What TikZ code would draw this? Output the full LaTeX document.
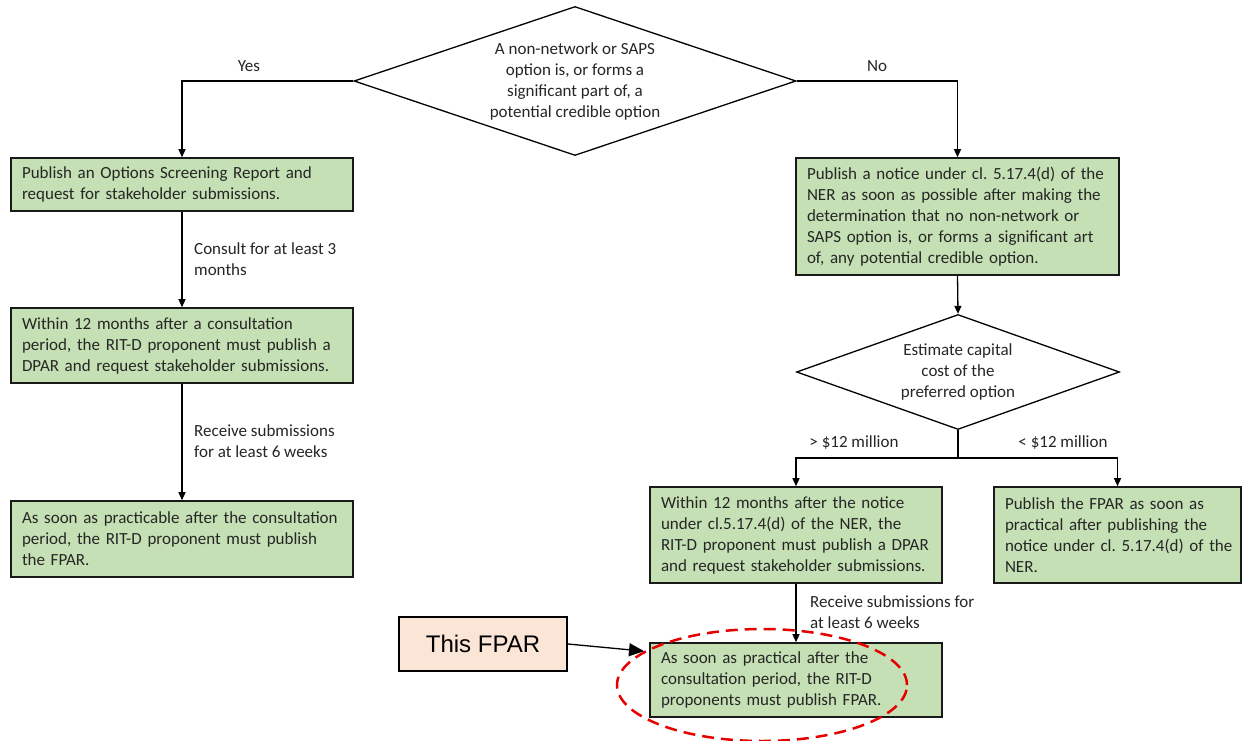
\documentclass[tikz,border=0pt]{standalone}
\usepackage{fontspec}
\setmainfont{Carlito}
\newfontfamily\arialfont{Liberation Sans}
\usetikzlibrary{arrows.meta,shapes.geometric}
\definecolor{boxgreen}{HTML}{C5E0B4}
\definecolor{peach}{HTML}{FBE5D6}
\definecolor{txt}{HTML}{262626}
\definecolor{ringred}{HTML}{E60000}
\newcommand{\lb}[1]{\mbox{#1}}
\frenchspacing
\begin{document}
\begin{tikzpicture}[x=1pt,y=-1pt,
  font=\fontsize{17}{21}\selectfont,
  box/.style={draw=black!90, line width=1.6pt, fill=boxgreen, inner xsep=11pt, inner ysep=0pt, align=left, text=txt},
  dec/.style={diamond, draw=black, line width=1.3pt, inner sep=0pt, align=center, text=txt},
  conn/.style={draw=black, line width=1.3pt, -{Triangle[length=8pt,width=7pt]}},
  lbl/.style={inner sep=0pt, text=txt, align=left},
  fpar/.style={draw=black, line width=2pt, fill=peach, minimum width=168pt, minimum height=54pt, inner sep=0pt, font=\arialfont\fontsize{24}{28}\selectfont},
  ring/.style={ellipse, draw=ringred, line width=2.5pt, dash pattern=on 12pt off 7pt, minimum width=290pt, minimum height=112pt, inner sep=0pt}]
\useasboundingbox (0,0) rectangle (1244,741);
\fill[white] (0,0) rectangle (1244,741);

% decisions
\node[dec, minimum width=442pt, minimum height=149pt, aspect=2.97] (d1) at (575,81)
  {A non-network or SAPS\\option is, or forms a\\significant part of, a\\potential credible option};
\node[dec, minimum width=323pt, minimum height=115pt, aspect=2.8] (d2) at (958,372)
  {Estimate capital\\cost of the\\preferred option};

% left column
\node[box, text width=320pt, minimum height=53pt] (b1) at (182,184.5)
  {\lb{Publish an Options Screening Report and}\\\lb{request for stakeholder submissions.}};
\node[box, text width=320pt, minimum height=75pt] (b2) at (182,345.5)
  {\lb{Within 12 months after a consultation}\\\lb{period, the RIT-D proponent must publish a}\\\lb{DPAR and request stakeholder submissions.}};
\node[box, text width=320pt, minimum height=76pt] (b3) at (182,539)
  {\lb{As soon as practicable after the consultation}\\\lb{period, the RIT-D proponent must publish}\\\lb{the FPAR.}};

% right column
\node[box, text width=301pt, minimum height=117pt] (b4) at (957.5,216.5)
  {\lb{Publish a notice under cl. 5.17.4(d) of the}\\\lb{NER as soon as possible after making the}\\\lb{determination that no non-network or}\\\lb{SAPS option is, or forms a significant art}\\\lb{of, any potential credible option.}};
\node[box, text width=270pt, minimum height=96pt] (b5) at (796,535)
  {\lb{Within 12 months after the notice}\\\lb{under cl.5.17.4(d) of the NER, the}\\\lb{RIT-D proponent must publish a DPAR}\\\lb{and request stakeholder submissions.}};
\node[box, text width=225pt, minimum height=96pt] (b6) at (1117.5,535)
  {\lb{Publish the FPAR as soon as}\\\lb{practical after publishing the}\\\lb{notice under cl. 5.17.4(d) of the}\\\lb{NER.}};
\node[box, text width=270pt, minimum height=74pt] (b7) at (796,680)
  {\lb{As soon as practical after the}\\\lb{consultation period, the RIT-D}\\\lb{proponents must publish FPAR.}};

% connectors
\draw[conn] (d1.west) -| (b1.north);
\node[lbl] (yes) at (249,66) {Yes};
\draw[conn] (d1.east) -| (b4.north);
\node[lbl] (no) at (877,66) {No};
\draw[conn] (b1.south) -- (b2.north);
\node[lbl, anchor=west] (l1) at (194,259.5) {Consult for at least 3\\months};
\draw[conn] (b2.south) -- (b3.north);
\node[lbl, anchor=west] (l2) at (194,441.5) {Receive submissions\\for at least 6 weeks};
\draw[conn] (b4.south) -- (d2.north);
\coordinate (split) at (958,458);
\draw[line width=1.3pt] (d2.south) -- (split);
\draw[conn] (split) -| (b5.north);
\draw[conn] (split) -| (b6.north);
\node[lbl] (gt) at (854,443) {> \$12 million};
\node[lbl] (lt) at (1063,443) {< \$12 million};
\draw[conn] (b5.south) -- (b7.north);
\node[lbl, anchor=west] (l3) at (810,612.5) {Receive submissions for\\at least 6 weeks};

% highlight
\node[fpar] (fp) at (483,644) {This FPAR};
\node[ring] (rg) at (762,685) {};
\draw[line width=1.3pt, -{Triangle[length=15pt,width=13pt]}] (fp.east) -- (rg.164);
\end{tikzpicture}
\end{document}
